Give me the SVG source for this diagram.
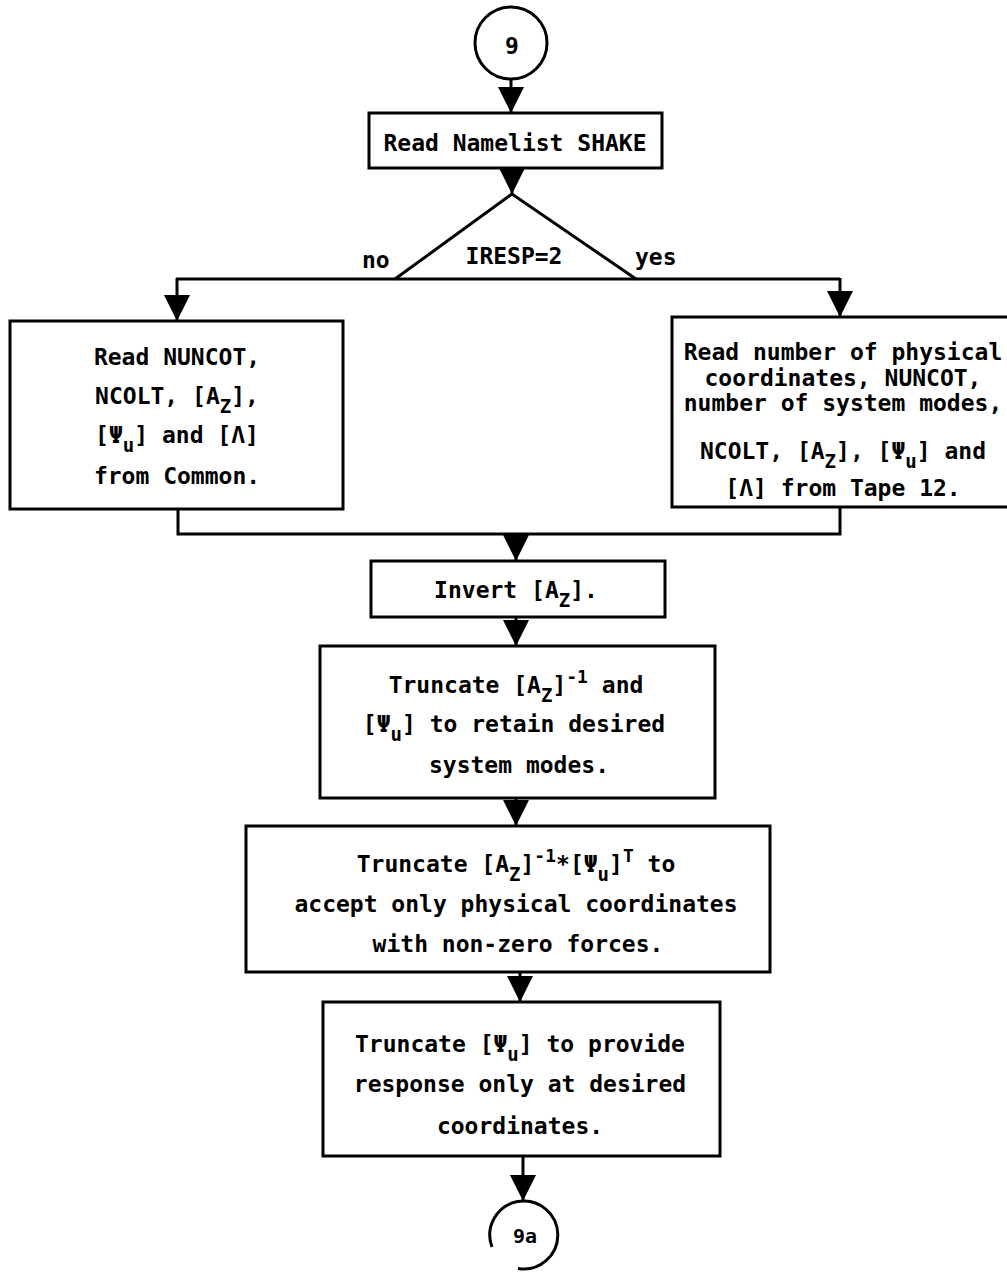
<svg xmlns="http://www.w3.org/2000/svg" width="1007" height="1273" viewBox="0 0 1007 1273">
<style>
.t{font-family:"DejaVu Sans Mono","Liberation Mono",monospace;font-weight:bold;font-size:23px;fill:#000;text-anchor:middle}
.l{text-anchor:start}
.sb{font-size:19px}
.sp{font-size:18px}
.box{fill:#fff;stroke:#000;stroke-width:3}
.ln{fill:none;stroke:#000;stroke-width:3}
</style>
<defs>
<marker id="ah" markerUnits="userSpaceOnUse" markerWidth="26" markerHeight="26" refX="26" refY="13" orient="auto" viewBox="0 0 26 26">
<path d="M0,0 L26,13 L0,26 z" fill="#000"/>
</marker>
</defs>
<rect width="1007" height="1273" fill="#fff"/>
<g id="connectors">
<line class="ln" x1="511" y1="79" x2="511" y2="113" marker-end="url(#ah)"/>
<line class="ln" x1="512" y1="168" x2="512" y2="194" marker-end="url(#ah)"/>
<line class="ln" x1="176" y1="279" x2="840" y2="279"/>
<line class="ln" x1="177" y1="278" x2="177" y2="321" marker-end="url(#ah)"/>
<line class="ln" x1="840" y1="278" x2="840" y2="317" marker-end="url(#ah)"/>
<polyline class="ln" points="178,509 178,534 840,534 840,507"/>
<line class="ln" x1="516" y1="534" x2="516" y2="561" marker-end="url(#ah)"/>
<line class="ln" x1="516" y1="617" x2="516" y2="646" marker-end="url(#ah)"/>
<line class="ln" x1="516" y1="798" x2="516" y2="826" marker-end="url(#ah)"/>
<line class="ln" x1="520" y1="972" x2="520" y2="1002" marker-end="url(#ah)"/>
<line class="ln" x1="523" y1="1156" x2="523" y2="1201" marker-end="url(#ah)"/>
</g>
<g id="start9">
<circle class="ln" cx="511" cy="43" r="36"/>
<text class="t" x="512" y="54">9</text>
</g>
<g id="readShake">
<rect class="box" x="369" y="113" width="293" height="55"/>
<text class="t" x="515" y="151">Read Namelist SHAKE</text>
</g>
<g id="decision">
<path class="ln" d="M395,279 L512,194 L636,279"/>
<text class="t" x="514" y="264">IRESP=2</text>
<text class="t l" x="362" y="268">no</text>
<text class="t l" x="635" y="265">yes</text>
</g>
<g id="readCommon">
<rect class="box" x="10" y="321" width="333" height="188"/>
<text class="t" x="177" y="365">Read NUNCOT,</text>
<text class="t" x="177" y="404">NCOLT, [A<tspan class="sb" dy="9">Z</tspan><tspan dy="-9">],</tspan></text>
<text class="t" x="177" y="443">[Ψ<tspan class="sb" dy="9">u</tspan><tspan dy="-9">] and [Λ]</tspan></text>
<text class="t" x="177" y="484">from Common.</text>
</g>
<g id="readTape">
<rect class="box" x="672" y="317" width="345" height="190"/>
<text class="t" x="843" y="360">Read number of physical</text>
<text class="t" x="843" y="386">coordinates, NUNCOT,</text>
<text class="t" x="843" y="411">number of system modes,</text>
<text class="t" x="843" y="459">NCOLT, [A<tspan class="sb" dy="9">Z</tspan><tspan dy="-9">], [Ψ</tspan><tspan class="sb" dy="9">u</tspan><tspan dy="-9">] and</tspan></text>
<text class="t" x="843" y="496">[Λ] from Tape 12.</text>
</g>
<g id="invert">
<rect class="box" x="371" y="561" width="294" height="56"/>
<text class="t" x="516" y="598">Invert [A<tspan class="sb" dy="9">Z</tspan><tspan dy="-9">].</tspan></text>
</g>
<g id="trunc1">
<rect class="box" x="320" y="646" width="395" height="152"/>
<text class="t" x="516" y="693">Truncate [A<tspan class="sb" dy="9">Z</tspan><tspan dy="-9">]</tspan><tspan class="sp" dy="-10">-1</tspan><tspan dy="10"> and</tspan></text>
<text class="t" x="514" y="732">[Ψ<tspan class="sb" dy="9">u</tspan><tspan dy="-9">] to retain desired</tspan></text>
<text class="t" x="519" y="773">system modes.</text>
</g>
<g id="trunc2">
<rect class="box" x="246" y="826" width="524" height="146"/>
<text class="t" x="516" y="872">Truncate [A<tspan class="sb" dy="9">Z</tspan><tspan dy="-9">]</tspan><tspan class="sp" dy="-10">-1</tspan><tspan dy="10">*[Ψ</tspan><tspan class="sb" dy="9">u</tspan><tspan dy="-9">]</tspan><tspan class="sp" dy="-10">T</tspan><tspan dy="10"> to</tspan></text>
<text class="t" x="516" y="912">accept only physical coordinates</text>
<text class="t" x="518" y="952">with non-zero forces.</text>
</g>
<g id="trunc3">
<rect class="box" x="323" y="1002" width="397" height="154"/>
<text class="t" x="520" y="1052">Truncate [Ψ<tspan class="sb" dy="9">u</tspan><tspan dy="-9">] to provide</tspan></text>
<text class="t" x="520" y="1092">response only at desired</text>
<text class="t" x="520" y="1134">coordinates.</text>
</g>
<g id="end9a">
<path class="ln" d="M492,1247 A34,34 0 1 1 518,1268.5"/>
<text class="t" x="525" y="1243" style="font-size:20px" textLength="24" lengthAdjust="spacingAndGlyphs">9a</text>
</g>
</svg>
